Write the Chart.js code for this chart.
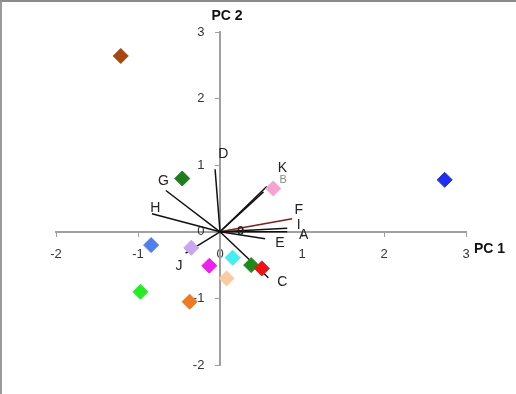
<!DOCTYPE html>
<html>
<head>
<meta charset="utf-8">
<script src="https://cdn.jsdelivr.net/npm/chart.js@4"></script>
<style>
  html, body { margin: 0; padding: 0; background: #fff; }
  #wrap { position: relative; width: 516px; height: 394px; }
  #c { position: absolute; left: 0; top: 0; }
  #frame { position: absolute; left: 0; top: 0; width: 516px; height: 394px; box-sizing: border-box;
           border-top: 2px solid #8a8a8a; border-left: 2px solid #9a9a9a; pointer-events: none; }
</style>
</head>
<body>
<div id="wrap">
  <canvas id="c" width="516" height="394"></canvas>
  <div id="frame"></div>
</div>
<script>
// Scores (PC1, PC2)
const scoreX = [-1.21, 2.74, -0.46, 0.65, -0.84, -0.35, -0.13, 0.155, 0.38, 0.51, 0.08, -0.97, -0.37];
const scoreY = [2.64, 0.78, 0.80, 0.65, -0.20, -0.24, -0.51, -0.39, -0.50, -0.55, -0.70, -0.90, -1.05];
const scoreColors = ['#a8460e', '#1f2ef0', '#1d7d1d', '#f7a3d2', '#4e7ef0', '#c9a6f0', '#f020ee',
                     '#3ff0f0', '#1b8a1b', '#ee1414', '#fbcba0', '#22ef22', '#f07a22'];

// Loadings
const loadNames = ['A', 'B', 'C', 'D', 'E', 'F', 'G', 'H', 'I', 'J', 'K'];
const loadX = [0.82, 0.53, 0.59, -0.06, 0.55, 0.88, -0.66, -0.83, 0.82, -0.42, 0.57];
const loadY = [0.00, 0.60, -0.69, 0.94, -0.105, 0.195, 0.62, 0.27, 0.055, -0.32, 0.68];
const loadColors = ['#111', '#111', '#111', '#111', '#111', '#8b1a1a', '#111', '#111', '#111', '#111', '#111'];

// Label anchor positions (data units)
const labelText = ['A', 'B', 'C', 'D', 'E', 'F', 'G', 'H', 'I', 'J', 'K', '0'];
const labelX = [1.02, 0.77, 0.76, 0.04, 0.73, 0.96, -0.69, -0.79, 0.96, -0.50, 0.76, 0.25];
const labelY = [-0.045, 0.78, -0.76, 1.16, -0.165, 0.33, 0.755, 0.36, 0.105, -0.51, 0.96, 0.0];

const xTicks = [-2, -1, 0, 1, 2, 3];
const yTicks = [-2, -1, 0, 1, 2, 3];

const datasets = [];
datasets.push({
  type: 'scatter',
  label: 'scores',
  order: 0,
  data: scoreX.map((x, i) => ({ x: x, y: scoreY[i] })),
  pointStyle: 'rectRot',
  pointRadius: 7.5,
  pointHoverRadius: 7.5,
  pointBackgroundColor: scoreColors,
  pointBorderColor: scoreColors,
  pointBorderWidth: 1
});
loadNames.forEach((n, i) => {
  datasets.push({
    type: 'scatter',
    label: n,
    order: 1,
    data: [{ x: 0, y: 0 }, { x: loadX[i], y: loadY[i] }],
    showLine: true,
    borderColor: loadColors[i],
    borderWidth: 1.5,
    pointRadius: 0,
    pointHoverRadius: 0,
    fill: false
  });
});

const textPlugin = {
  id: 'texts',
  afterDatasetsDraw(chart) {
    const ctx = chart.ctx;
    const xs = chart.scales.x, ys = chart.scales.y;
    ctx.save();
    ctx.textAlign = 'center';
    ctx.textBaseline = 'middle';
    labelText.forEach((t, i) => {
      if (t === 'B') { ctx.font = '11px "Liberation Sans", Arial, sans-serif'; ctx.fillStyle = '#888'; }
      else if (t === '0') { ctx.font = 'bold 13px "Liberation Sans", Arial, sans-serif'; ctx.fillStyle = '#222'; }
      else { ctx.font = '14px "Liberation Sans", Arial, sans-serif'; ctx.fillStyle = '#222'; }
      ctx.fillText(t, xs.getPixelForValue(labelX[i]), ys.getPixelForValue(labelY[i]));
    });
    ctx.font = 'bold 14px "Liberation Sans", Arial, sans-serif';
    ctx.fillStyle = '#111';
    ctx.textAlign = 'left';
    ctx.fillText('PC 1', xs.getPixelForValue(3) + 8, ys.getPixelForValue(0) + 17);
    ctx.textAlign = 'center';
    ctx.fillText('PC 2', xs.getPixelForValue(0) + 7, 16);
    ctx.restore();
  }
};

new Chart(document.getElementById('c'), {
  type: 'scatter',
  data: { datasets: datasets },
  options: {
    responsive: false,
    animation: false,
    layout: { padding: { left: 56, right: 50, top: 32, bottom: 29 } },
    plugins: { legend: { display: false }, tooltip: { enabled: false } },
    scales: {
      x: {
        type: 'linear',
        position: { y: 0 },
        min: -2, max: 3,
        afterBuildTicks: (s) => { s.ticks = xTicks.map(v => ({ value: v })); },
        grid: { display: true, drawOnChartArea: false, drawTicks: true, tickLength: 4, color: '#a0a0a0' },
        border: { display: true, color: '#a0a0a0', width: 2 },
        ticks: { color: '#333', font: { family: '"Liberation Sans", Arial, sans-serif', size: 13 }, padding: 11, maxRotation: 0 }
      },
      y: {
        type: 'linear',
        position: { x: 0 },
        min: -2, max: 3,
        afterBuildTicks: (s) => { s.ticks = yTicks.map(v => ({ value: v })); },
        grid: { display: true, drawOnChartArea: false, drawTicks: true, tickLength: 4, color: '#a0a0a0' },
        border: { display: true, color: '#a0a0a0', width: 2 },
        ticks: {
          color: '#333', font: { family: '"Liberation Sans", Arial, sans-serif', size: 13 }, padding: 8,
          callback: (v) => String(v) + '\u2003\u2009'
        }
      }
    }
  },
  plugins: [textPlugin]
});
</script>
</body>
</html>
